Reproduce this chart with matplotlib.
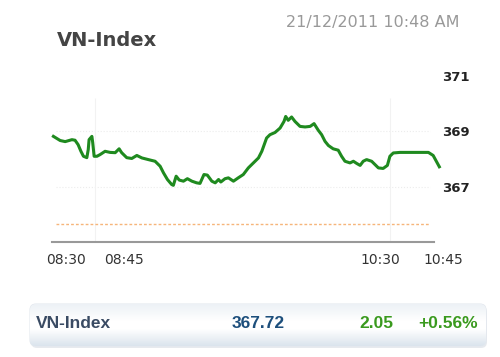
import numpy as np
import matplotlib
import matplotlib.pyplot as plt
import matplotlib.transforms as mtransforms
from matplotlib.patches import FancyBboxPatch

matplotlib.use('agg')

# =============================================================================
# data (minutes after 08:30, index value)
minutes = [0.1, 2.5, 4.3, 6.7, 7.8, 8.9, 9.9, 10.8, 12.0, 12.5, 12.8, 13.8, 14.1,
           14.6, 15.6, 16.7, 18.5, 20.3, 22.1, 23.5, 24.4, 26.2, 28.0, 29.8, 31.6,
           33.9, 36.3, 38.1, 39.3, 40.7, 42.2, 42.8, 43.8, 44.9, 46.4, 47.8, 49.4,
           51.1, 52.3, 53.7, 54.9, 56.5, 57.7, 58.9, 59.7, 61.2, 62.4, 64.2, 65.9,
           67.7, 69.5, 71.3, 73.1, 74.3, 76.0, 77.2, 79.0, 80.8, 82.2, 82.8, 83.7,
           84.9, 86.1, 87.9, 89.7, 91.5, 92.9, 94.4, 95.6, 96.8, 98.0, 99.7, 101.5,
           102.7, 103.9, 105.7, 106.9, 108.1, 109.3, 110.4, 111.6, 113.4, 114.6,
           115.8, 117.5, 119.0, 119.9, 121.1, 123.5, 133.6, 135.3, 137.5]
index_values = [368.82, 368.67, 368.63, 368.70, 368.68, 368.52, 368.28, 368.10,
                368.05, 368.34, 368.70, 368.82, 368.59, 368.10, 368.10, 368.16,
                368.28, 368.24, 368.23, 368.37, 368.23, 368.05, 368.02, 368.13,
                368.04, 367.98, 367.92, 367.74, 367.50, 367.26, 367.08, 367.05,
                367.38, 367.24, 367.20, 367.29, 367.20, 367.14, 367.12, 367.44,
                367.42, 367.20, 367.14, 367.26, 367.17, 367.29, 367.32, 367.20,
                367.32, 367.44, 367.68, 367.86, 368.04, 368.28, 368.76, 368.88,
                368.96, 369.12, 369.36, 369.54, 369.40, 369.52, 369.36, 369.18,
                369.16, 369.18, 369.28, 369.04, 368.88, 368.64, 368.49, 368.37,
                368.32, 368.10, 367.92, 367.86, 367.92, 367.84, 367.77, 367.92,
                367.98, 367.92, 367.80, 367.68, 367.66, 367.77, 368.10, 368.22,
                368.24, 368.24, 368.13, 367.72]

prev_close = 365.67
last_value = 367.72
change = 2.05
change_pct = '+0.56%'

tick_minutes = [0, 15, 120, 135]
tick_labels = ['08:30', '08:45', '10:30', '10:45']
label_shift_px = [13, 29, -10, 11]   # labels sit off their times on the original
y_ticks = [367, 369, 371]
# =============================================================================

fig = plt.figure(figsize=(5, 3.57), dpi=100)
fig.patch.set_facecolor('white')

ax = fig.add_axes([0.104, 0.322, 0.764, 0.465])
ax.plot(minutes, index_values, color='#1f8a1f', lw=2.2, clip_on=False,
        solid_joinstyle='round', zorder=3)
ax.hlines(prev_close, 1, 134, colors='#f6b57a', lw=1.0, linestyles=(0, (2, 1.5)))

ax.set_xlim(-0.4, 135.6)
ax.set_ylim(365, 371)

# faint grid
for v in [367, 369]:
    ax.hlines(v, 1, 134, colors='#ececec', lw=0.8, linestyles=':', zorder=1)
for m in [15, 120]:
    ax.vlines(m, 365, 370.2, colors='#f2f2f2', lw=0.8, zorder=1)

for s in ['top', 'left', 'right']:
    ax.spines[s].set_visible(False)
ax.spines['bottom'].set_color('#999999')
ax.spines['bottom'].set_linewidth(1.5)

ax.yaxis.tick_right()
ax.set_yticks(y_ticks)
ax.set_yticklabels([str(v) for v in y_ticks], fontsize=9.5, fontweight='bold',
                   color='#222222')
ax.tick_params(axis='y', length=0, pad=6)

ax.set_xticks(tick_minutes)
ax.set_xticklabels(tick_labels, fontsize=10, color='#333333')
ax.tick_params(axis='x', length=0, pad=8)
for lab, dx in zip(ax.get_xticklabels(), label_shift_px):
    lab.set_transform(lab.get_transform() +
                      mtransforms.ScaledTranslation(dx / 100, 0, fig.dpi_scale_trans))

# header texts
fig.text(57 / 500, 1 - 40 / 357, 'VN-Index', fontsize=14, fontweight='bold',
         color='#444444', va='center', ha='left')
fig.text(460 / 500, 1 - 22 / 357, '21/12/2011 10:48 AM', fontsize=11.5,
         color='#999999', va='center', ha='right')

# summary box at the bottom
ov = fig.add_axes([0, 0, 1, 1], zorder=5)
ov.set_xlim(0, 500)
ov.set_ylim(357, 0)
ov.axis('off')
shadow = FancyBboxPatch((31, 306), 456, 42, boxstyle='round,pad=0,rounding_size=6',
                        fc='#d7dde4', ec='none', alpha=0.6)
ov.add_patch(shadow)
box = FancyBboxPatch((30, 304), 456, 42, boxstyle='round,pad=0,rounding_size=6',
                     fc='white', ec='#e3e8ee', lw=0.8)
ov.add_patch(box)
grad = np.concatenate([np.linspace(0.93, 1.0, 20), np.linspace(1.0, 1.0, 8),
                       np.linspace(1.0, 0.86, 20)])
top_c = np.array([0.92, 0.94, 0.96])
img = np.ones((len(grad), 1, 3))
for i, g in enumerate(grad):
    img[i, 0, :] = 1 - (1 - g) * (1 - top_c) / (1 - 0.92)
im = ov.imshow(img, extent=(30, 486, 346, 304), aspect='auto', zorder=5.5,
               interpolation='bilinear')
im.set_clip_path(box)

ov.text(36, 323, 'VN-Index', fontsize=12.5, fontweight='bold', color='#3a4b63',
        family='Liberation Sans', va='center', ha='left', zorder=6)
ov.text(258, 323, f'{last_value:.2f}', fontsize=12.5, fontweight='bold',
        color='#1d4f7c', family='Liberation Sans', va='center', ha='center', zorder=6)
ov.text(376, 323, f'{change:.2f}', fontsize=12.5, fontweight='bold',
        color='#3a9a1e', family='Liberation Sans', va='center', ha='center', zorder=6)
ov.text(478, 323, change_pct, fontsize=12.5, fontweight='bold',
        color='#3a9a1e', family='Liberation Sans', va='center', ha='right', zorder=6)

fig.savefig('out.png', dpi=100)
